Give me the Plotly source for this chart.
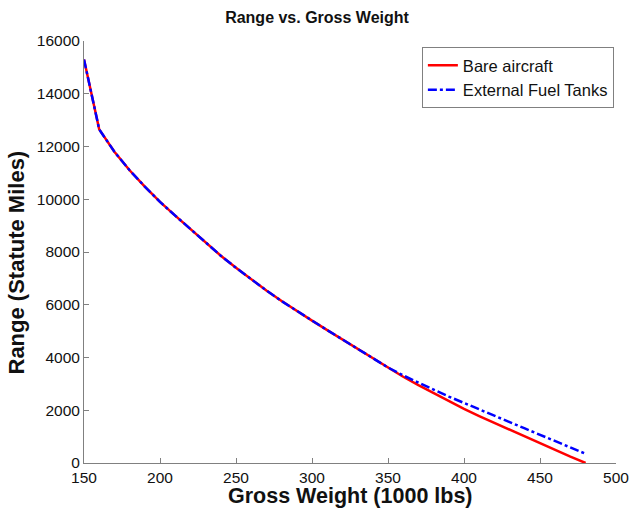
import plotly.graph_objects as go

# Gross weight (1000 lbs)
weight = [150, 160, 170, 180, 190, 200, 210, 220, 230, 240, 250, 260, 270, 280,
          290, 300, 310, 320, 330, 340, 350, 360, 370, 380, 390, 400, 410, 420,
          430, 440, 450, 460, 470, 480]

# Range (statute miles), bare aircraft
range_bare = [15300, 12650, 11800, 11100, 10480, 9900, 9380, 8880, 8360, 7860,
              7400, 6960, 6540, 6140, 5760, 5400, 5040, 4680, 4320, 3960,
              3600, 3270, 2950, 2640, 2340, 2050, 1780, 1520, 1260, 1000,
              740, 490, 240, 0]

# Range (statute miles), with external fuel tanks
range_tanks = [15300, 12650, 11800, 11100, 10480, 9900, 9380, 8880, 8360, 7860,
               7400, 6960, 6540, 6140, 5760, 5400, 5040, 4680, 4320, 3970,
               3620, 3320, 3040, 2780, 2520, 2270, 2030, 1790, 1550, 1310,
               1070, 830, 590, 350]

FONT = "Liberation Sans, Arial, Helvetica, sans-serif"
W, H = 634, 508
M = dict(l=84, r=18, t=41, b=45)

fig = go.Figure()
fig.add_trace(go.Scatter(
    x=weight, y=range_bare, mode="lines", name="Bare aircraft",
    line=dict(color="#ff0000", width=2.5),
))
fig.add_trace(go.Scatter(
    x=weight, y=range_tanks, mode="lines", name="External Fuel Tanks",
    line=dict(color="#0000ff", width=2.5, dash="dashdot"),
))

axis_common = dict(
    showgrid=False, zeroline=False, showline=True, linecolor="#808080",
    linewidth=1, ticks="inside", ticklen=5, tickcolor="#808080",
    tickfont=dict(family=FONT, size=15.5, color="#111111"), mirror=False,
    automargin=False,
)

# Axis titles placed in paper pixels, MATLAB-style (close to the tick labels)
plot_w = W - M["l"] - M["r"]
plot_h = H - M["t"] - M["b"]
x_title_y = (H - M["b"] - 496) / plot_h
y_title_x = (15.5 - M["l"]) / plot_w
y_title_y = (H - M["b"] - 263) / plot_h
legend_top = (H - M["b"] - 47) / plot_h

fig.update_layout(
    width=W, height=H,
    margin=M,
    paper_bgcolor="white", plot_bgcolor="white",
    title=dict(text="<b>Range vs. Gross Weight</b>", x=0.5, xanchor="center",
               xref="container", y=1 - 17 / H, yanchor="middle",
               font=dict(family=FONT, size=16, color="#111111")),
    xaxis=dict(range=[150, 500], tick0=150, dtick=50, **axis_common),
    yaxis=dict(range=[0, 16000], dtick=2000, tickformat="d", **axis_common),
    legend=dict(x=0.996, y=legend_top, xanchor="right", yanchor="top",
                bgcolor="white", bordercolor="#808080", borderwidth=1,
                font=dict(family=FONT, size=16.5, color="#111111"),
                tracegroupgap=0, itemwidth=30),
    showlegend=True,
    annotations=[
        dict(text="<b>Gross Weight (1000 lbs)</b>", xref="paper", yref="paper",
             x=0.5, y=x_title_y, xanchor="center", yanchor="middle",
             showarrow=False,
             font=dict(family=FONT, size=21.5, color="#111111")),
        dict(text="<b>Range (Statute Miles)</b>", xref="paper", yref="paper",
             x=y_title_x, y=y_title_y, xanchor="center", yanchor="middle",
             textangle=-90, showarrow=False,
             font=dict(family=FONT, size=22, color="#111111")),
    ],
)

fig.write_html("out.html")
